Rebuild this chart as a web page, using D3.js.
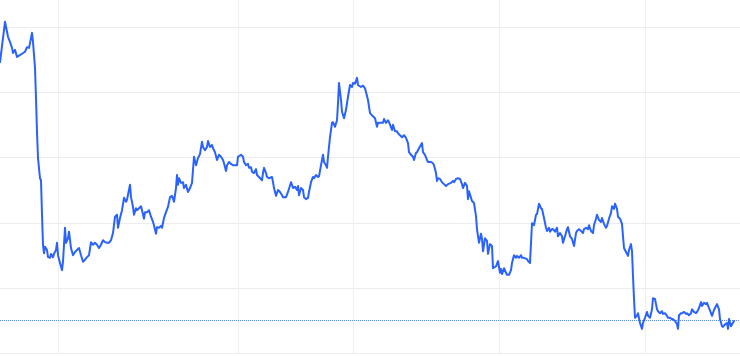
<!DOCTYPE html>
<html>
<head>
<meta charset="utf-8">
<script src="https://cdn.jsdelivr.net/npm/d3@7"></script>
<style>
  html, body { margin: 0; padding: 0; background: #ffffff; }
  svg { display: block; }
</style>
</head>
<body>
<div id="chart"></div>
<script>
// ---- data ----
const days = [0,3,5,8,10,12,13,15,17,19,22,25,27,29,31,32,33,35,36,37,38,40,41,42,43,44,45,47,48,50,51,53,54,56,57,58,60,62,63,65,66,68,69,71,73,75,77,79,81,83,85,87,89,91,93,95,97,99,101,103,105,107,109,111,113,115,117,118,120,122,124,126,127,130,131,133,134,136,137,139,141,142,144,145,147,149,151,153,154,155,156,157,159,161,162,164,166,168,170,172,174,176,177,178,179,181,183,184,186,188,190,192,193,194,196,198,200,202,203,205,207,208,210,212,213,215,217,219,221,223,224,226,227,229,231,233,237,238,241,243,244,246,248,249,251,252,254,256,257,259,262,263,264,266,267,269,272,273,274,276,278,280,282,283,286,288,291,292,293,295,297,298,299,301,303,304,306,308,309,311,313,314,316,318,319,321,323,324,326,327,328,330,332,333,335,337,338,339,341,342,344,346,348,350,352,353,355,357,358,361,363,365,368,370,373,375,377,378,380,383,384,386,388,389,392,393,395,397,398,400,402,404,406,408,409,411,413,414,416,417,419,422,423,425,427,428,431,433,434,436,437,438,440,442,444,446,448,451,453,454,456,458,460,462,463,465,467,468,469,471,472,474,476,477,479,481,482,483,485,487,488,490,492,493,496,498,500,501,502,504,506,507,509,511,512,514,516,517,519,521,522,524,527,528,530,532,533,534,536,537,539,541,542,544,546,547,549,550,552,553,555,557,558,560,562,563,565,567,568,570,572,574,576,577,579,581,583,584,586,588,589,591,593,594,596,597,599,601,602,604,606,607,609,611,612,614,615,617,618,620,622,623,624,626,628,629,631,632,633,634,635,637,638,640,642,643,645,647,648,650,652,653,655,657,658,660,662,663,665,667,668,670,672,673,675,677,678,679,681,682,684,686,687,689,691,692,694,696,697,699,701,702,704,706,707,709,711,712,714,716,717,719,720,722,723,725,727,728,729,731,732,734];
const values = [44.6,48.3,50.8,48.5,47.7,46.8,46.0,46.5,45.4,45.6,45.9,46.2,46.9,46.8,48.3,49.1,47.7,43.7,39.1,33.9,29.9,26.8,26.5,21.2,16.6,15.3,16.3,15.8,14.7,14.6,15.2,14.7,15.2,15.8,16.9,15.0,13.8,12.7,14.0,19.2,16.9,17.6,18.6,16.1,15.0,15.5,15.8,16.1,15.0,14.0,14.3,14.7,15.0,17.0,16.6,16.9,16.6,16.1,16.6,17.3,17.0,16.9,16.9,17.3,18.4,20.9,21.2,19.2,20.7,21.9,23.8,23.2,23.5,25.8,23.9,22.4,21.2,22.2,21.9,22.2,22.5,21.9,20.6,21.6,21.6,21.9,20.9,20.1,19.6,18.9,18.3,19.3,19.2,19.5,19.2,20.7,21.6,22.4,23.9,24.1,23.2,25.3,27.3,25.8,26.8,26.1,26.2,25.3,25.8,24.7,25.3,26.1,28.1,30.1,28.8,29.9,30.5,32.4,31.6,31.1,31.6,32.5,31.6,31.9,31.4,30.8,29.6,30.4,30.1,29.6,29.1,27.9,28.8,29.3,29.0,28.8,28.8,30.1,30.4,30.1,29.3,28.8,29.0,28.4,28.5,27.8,27.6,28.2,27.3,27.0,26.5,27.6,28.4,27.6,27.0,26.8,27.0,26.2,25.3,24.1,25.0,24.7,24.2,23.9,23.9,24.7,26.2,25.8,25.3,25.5,25.0,25.6,24.2,25.3,25.0,23.9,23.6,23.8,24.7,26.2,27.0,26.8,27.3,27.0,27.1,28.8,30.4,29.3,28.8,28.4,30.1,33.1,35.3,35.4,34.7,35.7,38.3,41.4,38.8,37.0,36.0,37.3,39.3,41.1,40.8,41.4,41.3,42.2,41.1,40.8,41.0,40.6,38.8,36.8,36.3,36.0,34.7,35.3,35.3,35.3,35.9,35.3,35.7,35.4,34.2,35.0,34.0,34.0,33.7,33.4,33.1,33.4,33.0,32.2,30.8,30.4,30.1,29.6,30.7,30.8,31.4,32.2,30.8,30.4,29.6,29.3,29.3,29.1,28.8,27.6,26.4,26.8,26.7,26.2,25.9,25.6,25.9,26.1,26.4,26.2,26.7,26.8,26.7,25.9,25.3,26.1,25.6,23.6,24.8,23.8,23.3,23.0,21.0,19.0,16.9,18.3,17.5,15.6,17.6,17.2,15.2,16.7,16.4,13.0,13.3,14.1,12.3,12.9,12.1,13.0,12.3,12.0,12.0,12.7,13.8,15.0,14.6,14.9,14.6,15.0,14.6,14.6,14.4,14.1,13.8,19.9,19.8,19.6,21.2,21.3,22.9,22.2,22.1,20.7,19.2,18.7,19.2,18.6,19.0,19.0,18.6,19.2,17.9,18.4,17.9,16.9,17.9,19.0,19.3,17.9,17.5,16.4,18.4,18.7,19.0,18.7,18.4,19.0,19.2,19.0,19.6,18.7,18.4,19.6,20.6,21.2,20.4,20.1,20.7,19.8,19.2,19.5,20.6,21.5,22.5,22.1,22.9,22.1,20.9,20.6,19.8,17.9,16.1,15.5,14.9,15.8,16.7,15.6,11.8,8.3,5.4,5.7,6.1,4.6,3.7,4.6,5.4,6.3,5.7,5.4,6.7,8.4,8.3,6.7,6.4,6.1,6.4,6.0,6.1,5.7,5.4,5.4,5.2,5.2,4.9,4.4,3.7,5.8,6.1,6.1,6.3,6.0,6.1,5.8,6.1,6.7,6.3,6.1,6.3,6.9,7.8,7.2,7.7,7.5,7.7,6.9,6.1,5.7,6.6,7.2,7.5,6.7,5.2,4.1,4.0,4.4,4.6,3.7,5.2,4.1,4.4,4.9];
const yTicks = [0, 10, 20, 30, 40, 50];
const xTicks = [58, 238, 353, 499, 645];
const refValue = 5.0;

// ---- layout ----
const W = 740, H = 356;
const svg = d3.select("#chart").append("svg").attr("width", W).attr("height", H);

const x = d3.scaleLinear().domain([0, 740]).range([0, 740]);
const y = d3.scaleLinear().domain([0, 50]).range([353, 27]);

// horizontal grid
svg.append("g")
  .selectAll("line").data(yTicks).join("line")
  .attr("x1", 0).attr("x2", W)
  .attr("y1", d => Math.round(y(d)) + 0.5).attr("y2", d => Math.round(y(d)) + 0.5)
  .attr("stroke", "#ececec").attr("stroke-width", 1);

// vertical grid
svg.append("g")
  .selectAll("line").data(xTicks).join("line")
  .attr("x1", d => Math.round(x(d)) + 0.5).attr("x2", d => Math.round(x(d)) + 0.5)
  .attr("y1", 0).attr("y2", Math.round(y(0)))
  .attr("stroke", "#efefef").attr("stroke-width", 1);

// reference dotted line
svg.append("line")
  .attr("x1", 0).attr("x2", W)
  .attr("y1", Math.round(y(refValue)) + 0.5).attr("y2", Math.round(y(refValue)) + 0.5)
  .attr("stroke", "#2962ff").attr("stroke-opacity", 0.75)
  .attr("stroke-width", 1).attr("stroke-dasharray", "1,1");

// price line
const pts = days.map((d, i) => [d, values[i]]);
const line = d3.line().x(d => x(d[0])).y(d => y(d[1]));
svg.append("path")
  .datum(pts)
  .attr("d", line)
  .attr("fill", "none")
  .attr("stroke", "#2962ff")
  .attr("stroke-width", 2)
  .attr("stroke-linejoin", "round")
  .attr("stroke-linecap", "round");
</script>
</body>
</html>
